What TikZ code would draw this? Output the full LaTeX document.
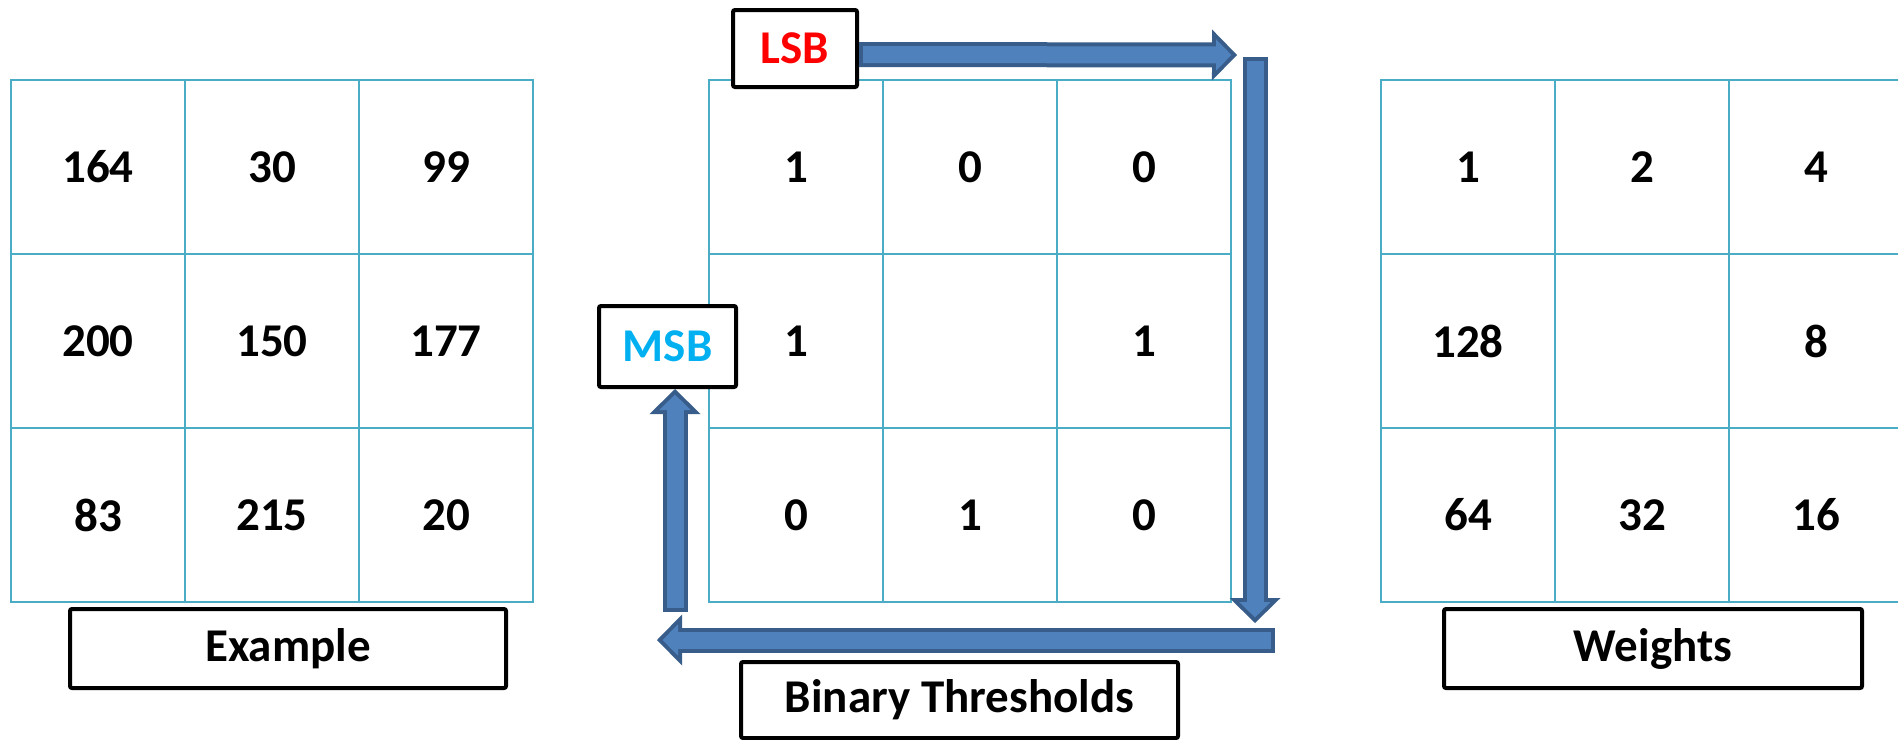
\documentclass[tikz,border=0pt]{standalone}
\usepackage{fontspec}
\setmainfont{Carlito}
\usepackage{tikz}
\usetikzlibrary{arrows.meta}
\definecolor{gridblue}{RGB}{75,172,198}
\definecolor{arrowfill}{RGB}{79,129,189}
\definecolor{arrowline}{RGB}{56,93,138}
\definecolor{lsbred}{RGB}{255,0,0}
\definecolor{msbblue}{RGB}{0,176,240}
\tikzset{cell/.style={rectangle, draw=gridblue, line width=1pt, minimum size=87pt, inner sep=0pt, font=\fontsize{23.5}{28}\selectfont\bfseries},
    tag box/.style={rectangle, draw=black, line width=2pt, rounded corners=1pt, fill=white, inner sep=0pt, font=\fontsize{23.5}{28}\selectfont\bfseries},
    block arrow/.style={line width=8.5pt, draw=arrowfill, -{Triangle[length=7.7pt, width=15.7pt, line width=0pt]}, shorten >=2.8pt, shorten <=2pt,
        preaction={draw=arrowline, line width=12.5pt, -{Triangle[length=12.5pt, width=25.5pt, line width=0pt]}, shorten >=0pt, shorten <=0pt}},}

\begin{document}
\begin{tikzpicture}[x=0.5pt, y=-0.5pt]
        \useasboundingbox (0,0) rectangle (1898,739);
        % Grids
        \foreach \r/\vals in {1/{164,30,99}, 2/{200,150,177}, 3/{83,215,20}}
            \foreach \v [count=\c] in \vals
                \node[cell] (ex-\r-\c) at ({98+174*(\c-1)}, {167+174*(\r-1)}) {\v};
        \foreach \r/\vals in {1/{1,0,0}, 2/{1,{},1}, 3/{0,1,0}}
            \foreach \v [count=\c] in \vals
                \node[cell] (bin-\r-\c) at ({796+174*(\c-1)}, {167+174*(\r-1)}) {\v};
        \foreach \r/\vals in {1/{1,2,4}, 2/{128,{},8}, 3/{64,32,16}}
            \foreach \v [count=\c] in \vals
                \node[cell] (wt-\r-\c) at ({1468+174*(\c-1)}, {167+174*(\r-1)}) {\v};
        % Nodes
        \node[tag box, minimum width=218pt, minimum height=39.5pt] (example) at (288,648.5) {Example};
        \node[tag box, minimum width=209pt, minimum height=39.5pt] (weights) at (1653,648.5) {Weights};
        \node[tag box, minimum width=218.5pt, minimum height=38pt] (thresholds) at (959.5,700) {Binary Thresholds};
        \node[tag box, minimum width=62pt, minimum height=38.5pt, text=lsbred] (lsb) at (795,48.5) {LSB};
        \node[tag box, minimum width=68.5pt, minimum height=40.5pt, text=msbblue] (msb) at (667.5,346.5) {MSB};
        \coordinate (tr) at (1237,55);
        \coordinate (rt) at (1255,57);
        \coordinate (rb) at (1255,623);
        \coordinate (br) at (1275,640);
        \coordinate (bl) at (657,640);
        \coordinate (lb) at (675,612);
        % Paths
        \draw[block arrow] ([yshift=-3pt]lsb.east) -- (tr);
        \draw[block arrow] (rt) -- (rb);
        \draw[block arrow] (br) -- (bl);
        \draw[block arrow] (lb) -- (lb |- msb.south);
    \end{tikzpicture}
\end{document}
